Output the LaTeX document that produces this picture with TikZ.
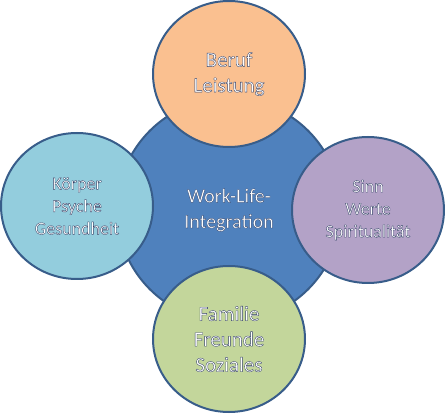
\documentclass[tikz,border=0pt]{standalone}
\usepackage{fontspec}
\setmainfont{Carlito}
\usetikzlibrary{shapes.geometric}
\definecolor{cblue}{HTML}{4F81BD}
\definecolor{cedge}{HTML}{385D8A}
\definecolor{corange}{HTML}{FAC090}
\definecolor{clightblue}{HTML}{93CDDD}
\definecolor{cpurple}{HTML}{B3A2C7}
\definecolor{cgreen}{HTML}{C3D69B}
\newcommand{\ot}[1]{\special{pdf:code 2 Tr 0.35 w 0.2 0.25 0.4 RG}#1\special{pdf:code 0 Tr}}
\newcommand{\otc}[1]{\special{pdf:code 2 Tr 0.25 w 0.15 0.2 0.35 RG}#1\special{pdf:code 0 Tr}}
\tikzset{
  bubble/.style={ellipse, draw=cedge, line width=2pt, inner sep=0pt,
    minimum width=152pt, minimum height=146pt, align=center, text=white},
  bigfont/.style={font=\fontsize{21}{25.5}\selectfont},
  smallfont/.style={font=\fontsize{18}{22.5}\selectfont},
}
\begin{document}
\begin{tikzpicture}[x=1pt,y=-1pt]
\useasboundingbox (0,0) rectangle (445,414);
\node[circle, draw=cedge, line width=2pt, fill=cblue, minimum size=224pt, inner sep=0pt,
  align=center, text=white, font=\fontsize{20}{25.5}\selectfont] (center) at (229,210)
  {\otc{Work-Life-\\Integration}};
\node[bubble, fill=corange, bigfont] (top) at (229,74) {\ot{Beruf\\Leistung}};
\node[bubble, fill=clightblue, smallfont] (left) at (77,206) {\ot{Körper\\Psyche\\Gesundheit}};
\node[bubble, fill=cpurple, smallfont] (right) at (368,210) {\ot{Sinn\\Werte\\Spiritualität}};
\node[bubble, fill=cgreen, bigfont] (bottom) at (229,339) {\ot{Familie\\Freunde\\Soziales}};
\end{tikzpicture}
\end{document}
